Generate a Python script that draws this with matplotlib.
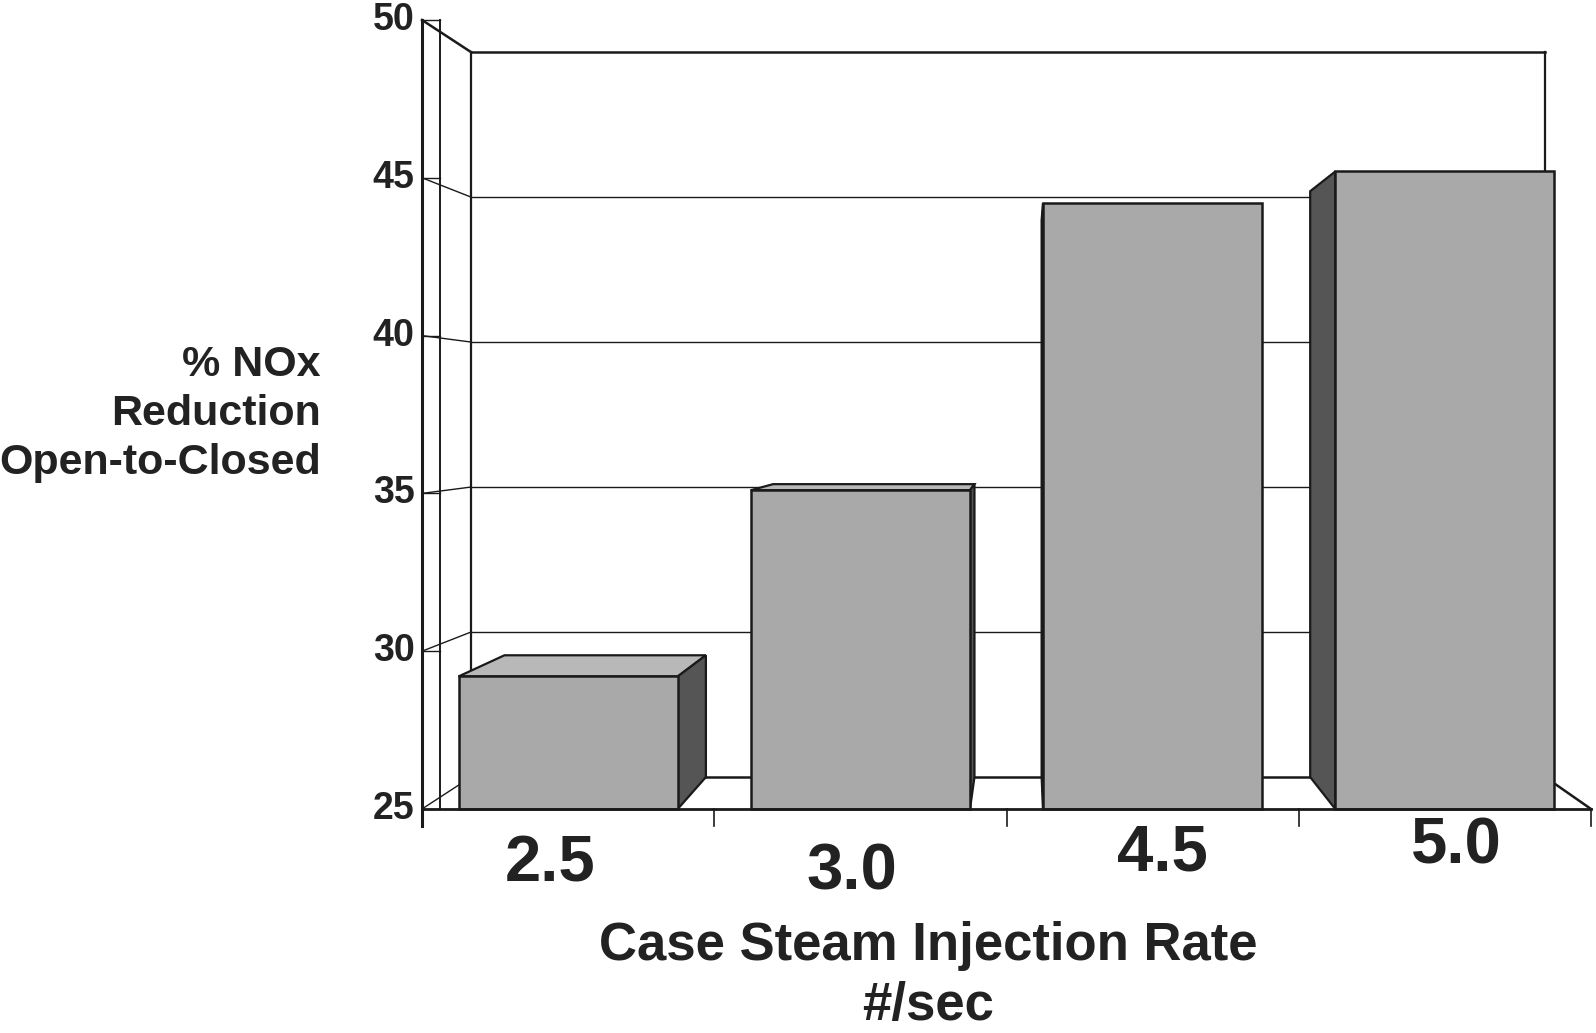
import matplotlib
matplotlib.use('Agg')
import matplotlib.pyplot as plt
from matplotlib.patches import Polygon

# ---- data ----
categories = ['2.5', '3.0', '4.5', '5.0']
values = [29.2, 35.1, 44.2, 45.2]
y_ticks = [25, 30, 35, 40, 45, 50]
y_label = '% NOx\nReduction\nOpen-to-Closed'
x_label = 'Case Steam Injection Rate\n#/sec'

# ---- layout / style ----
YMIN, YMAX = 25, 50
VP = (2.065, 37.48)   # vanishing point (data coords)
S = 0.919             # scale of the back plane
BAR_W = 0.75
FONT = 'Liberation Sans'
EDGE = '#1a1a1a'
FRONT_C = '#a9a9a9'
SIDE_C = '#555555'
TOP_C = '#b8b8b8'
TXT = '#222222'
# label placement tweaks (fraction of category width, value units)
LABEL_DX = [-0.06, -0.03, 0.035, 0.04]
LABEL_DY = [-1.75, -2.0, -1.4, -1.2]

W, H = 1596, 1033
fig = plt.figure(figsize=(W / 100, H / 100), dpi=100)
fig.patch.set_facecolor('white')
ax = fig.add_axes([422 / W, 1 - 809 / H, 1169 / W, 789 / H])
n = len(categories)
ax.set_xlim(0, n)
ax.set_ylim(YMIN, YMAX)
ax.axis('off')


def back(x, y):
    return VP[0] + S * (x - VP[0]), VP[1] + S * (y - VP[1])


def seg(p, q, lw=1.0, z=1):
    ax.plot([p[0], q[0]], [p[1], q[1]], color=EDGE, lw=lw, zorder=z,
            clip_on=False, solid_capstyle='projecting')


# back wall gridlines and left wall diagonals
for t in y_ticks:
    lw = 1.8 if t in (YMIN, YMAX) else 1.0
    seg(back(0, t), back(n, t), lw=lw)
    seg((0, t), back(0, t), lw=lw if t == YMAX else 1.0)
    seg((0, t), (0.062, t), lw=1.0)

# back wall verticals
seg(back(0, YMIN), back(0, YMAX), lw=1.6)
seg(back(n, YMIN), back(n, YMAX), lw=1.6)
# inner front line
seg((0.062, YMIN), (0.062, YMAX), lw=1.4)
# front y axis
seg((0, YMIN - 0.55), (0, YMAX), lw=2.2, z=5)
# floor
seg((0, YMIN), (n, YMIN), lw=2.0, z=5)
seg((n, YMIN), back(n, YMIN), lw=1.8)
# category ticks
for i in range(n + 1):
    seg((i, YMIN), (i, YMIN - 0.55), lw=1.2, z=5)

# bars
for i, v in enumerate(values):
    x0 = i + (1 - BAR_W) / 2
    x1 = x0 + BAR_W
    y0, y1 = YMIN, v
    kw = dict(closed=True, ec=EDGE, lw=1.6, zorder=3, clip_on=False,
              joinstyle='miter')
    if y1 < VP[1]:
        top = [(x0, y1), (x1, y1), back(x1, y1), back(x0, y1)]
        ax.add_patch(Polygon(top, fc=TOP_C, **kw))
    if x1 < VP[0]:
        side = [(x1, y0), (x1, y1), back(x1, y1), back(x1, y0)]
        ax.add_patch(Polygon(side, fc=SIDE_C, **kw))
    if x0 > VP[0]:
        side = [(x0, y0), (x0, y1), back(x0, y1), back(x0, y0)]
        ax.add_patch(Polygon(side, fc=SIDE_C, **kw))
    kw.update(zorder=4, lw=1.8)
    front = [(x0, y0), (x1, y0), (x1, y1), (x0, y1)]
    ax.add_patch(Polygon(front, fc=FRONT_C, **kw))

# y tick labels
for t in y_ticks:
    ax.text(-0.025, t, str(t), ha='right', va='center', fontsize=27,
            fontweight='bold', family=FONT, color=TXT, clip_on=False)

# category labels
for i, c in enumerate(categories):
    ax.text(i + 0.5 + LABEL_DX[i], YMIN + LABEL_DY[i], c, ha='center',
            va='center', fontsize=47, fontweight='bold', family=FONT,
            color=TXT, clip_on=False)

# axis titles
fig.text(928 / W, 1 - 976 / H, x_label, ha='center', va='center',
         fontsize=38, fontweight='bold', family=FONT, color=TXT,
         linespacing=1.27, multialignment='center')
fig.text(321 / W, 1 - 414 / H, y_label, ha='right', va='center',
         fontsize=31, fontweight='bold', family=FONT, color=TXT,
         linespacing=1.3, multialignment='right')

fig.savefig('out.png', dpi=100, facecolor='white')
